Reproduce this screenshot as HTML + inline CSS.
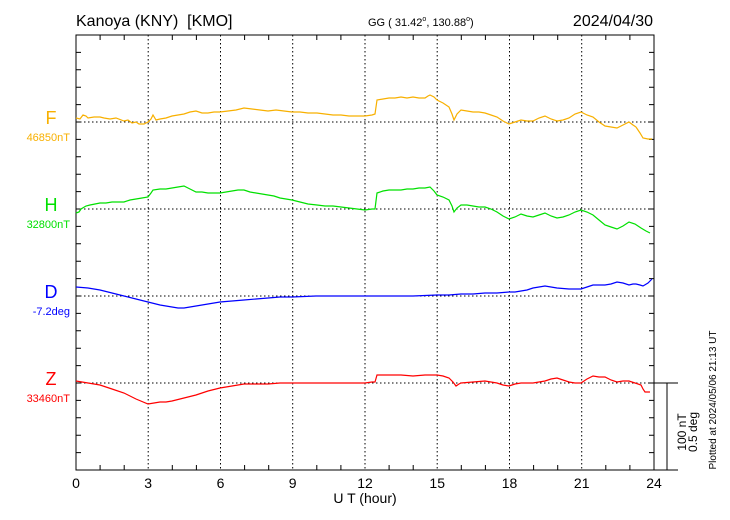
<!DOCTYPE html>
<html><head><meta charset="utf-8"><style>body{margin:0;background:#fff}svg{display:block;font-family:"Liberation Sans",sans-serif}</style></head><body>
<svg width="730" height="520" xmlns="http://www.w3.org/2000/svg">
<rect width="730" height="520" fill="#fff"/>
<g stroke="#000" stroke-width="1" stroke-dasharray="1.5,2.5" fill="none">
<line x1="148.2" y1="35" x2="148.2" y2="470"/><line x1="220.5" y1="35" x2="220.5" y2="470"/><line x1="292.7" y1="35" x2="292.7" y2="470"/><line x1="365" y1="35" x2="365" y2="470"/><line x1="437.2" y1="35" x2="437.2" y2="470"/><line x1="509.5" y1="35" x2="509.5" y2="470"/><line x1="581.7" y1="35" x2="581.7" y2="470"/>
<line x1="76" y1="122" x2="654" y2="122"/><line x1="76" y1="209" x2="654" y2="209"/><line x1="76" y1="296" x2="654" y2="296"/><line x1="76" y1="383" x2="654" y2="383"/>
</g>
<rect x="76" y="35" width="578" height="435" fill="none" stroke="#000"/>
<path stroke="#000" fill="none" d="M100.1 35v5M124.2 35v5M172.3 35v5M196.4 35v5M244.6 35v5M268.7 35v5M316.8 35v5M340.9 35v5M389.1 35v5M413.2 35v5M461.3 35v5M485.4 35v5M533.6 35v5M557.7 35v5M605.8 35v5M629.9 35v5
M100.1 470v-5M124.2 470v-5M172.3 470v-5M196.4 470v-5M244.6 470v-5M268.7 470v-5M316.8 470v-5M340.9 470v-5M389.1 470v-5M413.2 470v-5M461.3 470v-5M485.4 470v-5M533.6 470v-5M557.7 470v-5M605.8 470v-5M629.9 470v-5
M76 52.4h5M76 69.8h5M76 87.2h5M76 104.6h5M76 122h5M76 139.4h5M76 156.8h5M76 174.2h5M76 191.6h5M76 209h5M76 226.4h5M76 243.8h5M76 261.2h5M76 278.6h5M76 296h5M76 313.4h5M76 330.8h5M76 348.2h5M76 365.6h5M76 383h5M76 400.4h5M76 417.8h5M76 435.2h5M76 452.6h5
M654 52.4h-5M654 69.8h-5M654 87.2h-5M654 104.6h-5M654 122h-5M654 139.4h-5M654 156.8h-5M654 174.2h-5M654 191.6h-5M654 209h-5M654 226.4h-5M654 243.8h-5M654 261.2h-5M654 278.6h-5M654 296h-5M654 313.4h-5M654 330.8h-5M654 348.2h-5M654 365.6h-5M654 383h-5M654 400.4h-5M654 417.8h-5M654 435.2h-5M654 452.6h-5
M654 383H678M654 470H678M667 383V470"/>
<polyline fill="none" stroke="#f8b000" stroke-width="1.2" points="76,118 80,119 83,115 86,116 88,118 94,117 100,117 104,118 110,119 116,118 124,121 128,120 132,123 136,122 139,124 144,124 148,122 151,119 153,115 156,120 160,119 166,118 172,116 178,115 184,114 190,112 196,111 202,113 208,113 214,112 220,112 228,111 236,110 244,108 252,109 260,110 268,111 276,110 284,111 292,112 300,112 308,113 317,113 325,114 333,115 341,115 349,116 357,116 365,116 372,115 375,114 377,100 383,99 389,98 395,98 401,97 407,98 413,97 419,98 425,98 428,96 430,95 434,97 437,100 443,103 449,107 452,114 454,120 457,114 461,110 467,111 473,112 479,112 485,113 491,115 497,117 503,121 509,124 515,122 521,120 527,121 533,121 539,118 545,116 551,119 557,121 563,120 569,118 575,114 581,112 587,115 593,117 599,122 605,126 611,127 617,128 623,125 629,122 633,125 636,127 640,133 643,138 648,139 652,139"/>
<polyline fill="none" stroke="#00e000" stroke-width="1.2" points="76,213 79,212 81,209 86,206 90,205 95,204 100,203 106,203 112,202 118,202 124,202 130,200 136,199 142,198 148,197 151,193 153,190 160,189 166,189 172,188 178,187 184,186 190,189 196,192 202,192 208,193 214,193 220,193 226,192 232,191 238,190 244,190 250,192 256,193 262,194 268,195 274,196 280,198 286,199 292,200 300,202 308,204 317,205 325,206 333,206 341,207 349,208 357,209 365,210 372,209 375,209 377,193 383,191 389,190 395,190 401,190 407,189 413,189 419,188 425,188 430,187 434,191 437,195 443,197 449,200 452,206 454,212 457,208 461,205 467,205 473,206 479,207 485,207 491,209 497,212 503,216 509,219 515,217 521,214 527,216 533,217 539,215 545,213 551,216 557,218 563,217 569,215 575,212 581,210 587,212 593,215 599,220 605,225 611,227 617,229 623,226 629,222 635,224 641,228 646,231 650,233"/>
<polyline fill="none" stroke="#0000ff" stroke-width="1.2" points="76,287 88,288 100,290 112,293 124,296 136,299 148,302 160,305 172,307 178,308 184,308 190,307 196,306 208,304 220,302 232,301 244,300 256,299 268,298 280,297 292,297 316,296 341,296 365,296 389,296 413,296 437,295 449,295 461,294 473,294 485,293 497,293 509,292 515,292 521,291 527,290 533,288 539,287 545,286 551,287 557,288 569,289 581,289 587,287 593,285 599,285 605,285 611,284 617,282 623,283 629,285 633,284 636,284 640,285 643,286 648,283 652,279"/>
<polyline fill="none" stroke="#ff0000" stroke-width="1.2" points="76,381 82,382 88,383 94,384 100,385 112,389 124,393 136,399 148,404 154,403 160,402 166,402 172,401 184,398 196,395 208,391 220,388 232,386 244,384 256,384 268,384 280,383 292,383 316,383 341,383 365,383 372,382 375,382 377,375 383,375 389,375 401,375 413,376 425,375 437,375 443,376 449,378 453,382 456,386 459,384 461,383 473,382 485,381 497,383 503,385 509,386 515,384 521,383 527,383 533,383 539,382 545,381 551,379 557,378 563,380 569,382 575,383 581,383 587,379 593,376 599,377 605,377 611,380 617,382 623,381 629,381 635,383 641,385 643,389 645,392 650,392"/>
<text x="76" y="26" font-size="16" xml:space="preserve">Kanoya (KNY)  [KMO]</text>
<text x="368" y="26" font-size="11">GG ( 31.42<tspan font-size="7" dy="-5">o</tspan><tspan dy="5">, 130.88</tspan><tspan font-size="7" dy="-5">o</tspan><tspan dy="5">)</tspan></text>
<text x="653" y="26" font-size="16" text-anchor="end">2024/04/30</text>
<g font-size="18" text-anchor="middle"><text x="51" y="124" fill="#f8b000">F</text><text x="51" y="211" fill="#00e000">H</text><text x="51" y="298" fill="#0000ff">D</text><text x="51" y="385" fill="#ff0000">Z</text></g>
<g font-size="11" text-anchor="end"><text x="70" y="141" fill="#f8b000">46850nT</text><text x="70" y="228" fill="#00e000">32800nT</text><text x="70" y="315" fill="#0000ff">-7.2deg</text><text x="70" y="402" fill="#ff0000">33460nT</text></g>
<g font-size="14" text-anchor="middle"><text x="76" y="488">0</text><text x="148.2" y="488">3</text><text x="220.5" y="488">6</text><text x="292.7" y="488">9</text><text x="365" y="488">12</text><text x="437.2" y="488">15</text><text x="509.5" y="488">18</text><text x="581.7" y="488">21</text><text x="654" y="488">24</text><text x="365" y="503">U T (hour)</text></g>
<text transform="translate(686,432) rotate(-90)" font-size="12" text-anchor="middle">100 nT</text>
<text transform="translate(697,432) rotate(-90)" font-size="12" text-anchor="middle">0.5 deg</text>
<text transform="translate(716,400) rotate(-90)" font-size="10" text-anchor="middle">Plotted at 2024/05/06 21:13 UT</text>
</svg>
</body></html>
